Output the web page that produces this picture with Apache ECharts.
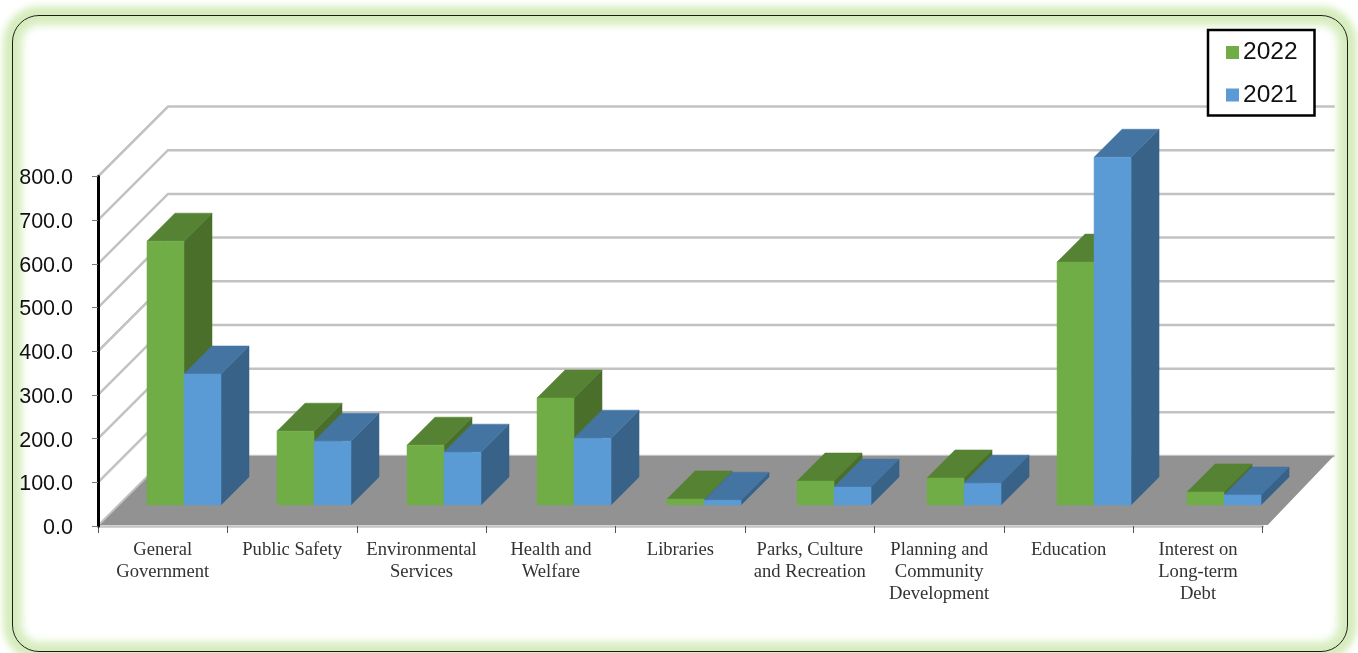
<!DOCTYPE html>
<html>
<head>
<meta charset="utf-8">
<title>Expenditures by function</title>
<script src="https://cdn.jsdelivr.net/npm/echarts@6/dist/echarts.min.js"></script>
<style>
  html, body { margin: 0; padding: 0; background: #fff; width: 1358px; height: 653px; overflow: hidden; }
  #frame {
    position: absolute; left: 12px; top: 15px; width: 1336px; height: 637px;
    box-sizing: border-box; border: 1px solid #1c1c1c; border-radius: 27px; background: #fff;
    box-shadow: 0 0 7px 9px #d6edbd, inset 0 0 8px 9px #d6edbd;
  }
  #chart { position: absolute; left: 0; top: 0; width: 1358px; height: 653px; }
</style>
</head>
<body>
<div id="frame"></div>
<div id="chart"></div>
<script>
const categories = [
  'General\nGovernment', 'Public Safety', 'Environmental\nServices', 'Health and\nWelfare',
  'Libraries', 'Parks, Culture\nand Recreation', 'Planning and\nCommunity\nDevelopment',
  'Education', 'Interest on\nLong-term\nDebt'
];
const values2022 = [604, 169, 137, 245, 14, 55, 62, 556, 30];
const values2021 = [300, 146, 121, 153, 11, 41, 50, 796, 23];
const yTicks = [0, 100, 200, 300, 400, 500, 600, 700, 800];

// Oblique projection used to fake the 3D box look
const WALL_DEPTH = 70;      // depth of the whole chart floor
const BAR_INSET = 21;       // how far the bars' front face sits behind the axis plane
const BAR_DEPTH = 28;       // depth of each box
const BAR_SHARE = 0.286;    // one box's width as a share of a category band
const PLANE_SPREAD = 1.0046; // the bar plane is a touch wider than the axis plane

const FACES = {
  '2022': { front: '#70ad47', top: '#558233', side: '#4a6f2b' },
  '2021': { front: '#5b9bd5', top: '#4474a2', side: '#386288' }
};

const poly = (points, fill, z2) => ({
  type: 'polygon', z2,
  shape: { points },
  style: { fill, stroke: fill, lineWidth: 0.5 }
});

// A box is three polygons: front face, top, and right side
function boxSeries(name, values, slot) {
  const faces = FACES[name];
  return {
    name, type: 'custom', coordinateSystem: 'cartesian2d', clip: false, z: 4,
    itemStyle: { color: faces.front },
    encode: { x: 0, y: 1 },
    data: values.map((v, i) => [i, v]),
    renderItem(params, api) {
      const base = api.coord([api.value(0), 0]);
      const head = api.coord([api.value(0), api.value(1)]);
      const w = api.size([1, 0])[0] * BAR_SHARE;
      const centre = params.coordSys.x + (base[0] - params.coordSys.x) * PLANE_SPREAD;
      const x0 = centre + BAR_INSET + slot * w;
      const x1 = x0 + w;
      const yb = base[1] - BAR_INSET;
      const yt = head[1] - BAR_INSET;
      const d = BAR_DEPTH;
      return {
        type: 'group',
        children: [
          poly([[x1, yb], [x1 + d, yb - d], [x1 + d, yt - d], [x1, yt]], faces.side, 1),
          poly([[x0, yt], [x0 + d, yt - d], [x1 + d, yt - d], [x1, yt]], faces.top, 2),
          poly([[x0, yb], [x1, yb], [x1, yt], [x0, yt]], faces.front, 3)
        ]
      };
    }
  };
}

const option = {
  backgroundColor: 'transparent',
  animation: false,
  textStyle: { fontFamily: '"Liberation Sans", Arial, sans-serif' },
  legend: {
    data: ['2022', '2021'],
    orient: 'vertical',
    left: 1208, top: 30,
    padding: [10, 17, 8, 18],
    itemWidth: 13, itemHeight: 13, itemGap: 17.5,
    icon: 'rect',
    backgroundColor: '#fff',
    borderColor: '#000', borderWidth: 2.5,
    textStyle: { fontFamily: '"Liberation Sans", Arial, sans-serif', fontSize: 24.5, color: '#111', padding: [0, 0, 0, -1] }
  },
  grid: { left: 98, right: 95.3, top: 176.5, bottom: 127 },
  xAxis: {
    type: 'category',
    data: categories,
    axisLine: { lineStyle: { color: '#c4c4c4', width: 2.5 } },
    axisTick: { show: true, alignWithLabel: false, length: 7, lineStyle: { color: '#555', width: 1 } },
    axisLabel: {
      interval: 0, margin: 13, lineHeight: 22,
      fontFamily: '"Liberation Serif", "Times New Roman", serif',
      fontSize: 18.6, color: '#333'
    },
    z: 2
  },
  yAxis: {
    type: 'value', min: 0, max: 800, interval: 100,
    axisLine: { show: true, lineStyle: { color: '#000', width: 3 } },
    axisTick: { show: true, length: 6, lineStyle: { color: '#777', width: 1 } },
    axisLabel: {
      margin: 25, fontSize: 21.5, color: '#111',
      // a short top-aligned line box drops the digits just under each tick
      verticalAlign: 'top', lineHeight: 4,
      formatter: v => v.toFixed(1)
    },
    splitLine: { show: false },
    z: 5
  },
  series: [
    {
      // Wall gridlines: one oblique run from the axis, then along the back wall
      name: 'walls', type: 'custom', coordinateSystem: 'cartesian2d', clip: false, silent: true, z: 1,
      encode: { x: 0, y: 1 },
      data: yTicks.map(t => [0, t]),
      renderItem(params, api) {
        const y = api.coord([0, api.value(1)])[1];
        const left = params.coordSys.x;
        const right = left + params.coordSys.width;
        return {
          type: 'polyline',
          shape: { points: [[left, y], [left + WALL_DEPTH, y - WALL_DEPTH], [right + WALL_DEPTH + 2, y - WALL_DEPTH]] },
          style: { fill: 'none', stroke: '#c2c2c2', lineWidth: 2.5 }
        };
      }
    },
    {
      name: 'floor', type: 'custom', coordinateSystem: 'cartesian2d', clip: false, silent: true, z: 2,
      encode: { x: 0, y: 1 },
      data: [[0, 0]],
      renderItem(params, api) {
        const y = api.coord([0, 0])[1];
        const left = params.coordSys.x;
        const right = left + params.coordSys.width;
        return {
          type: 'polygon',
          shape: { points: [
            [left + 2, y - 1], [left + WALL_DEPTH + 1, y - WALL_DEPTH],
            [right + WALL_DEPTH + 1, y - WALL_DEPTH], [right + 5, y - 1]
          ] },
          style: { fill: '#929292' }
        };
      }
    },
    boxSeries('2022', values2022, -1),
    boxSeries('2021', values2021, 0)
  ]
};

echarts.init(document.getElementById('chart')).setOption(option);
</script>
</body>
</html>
